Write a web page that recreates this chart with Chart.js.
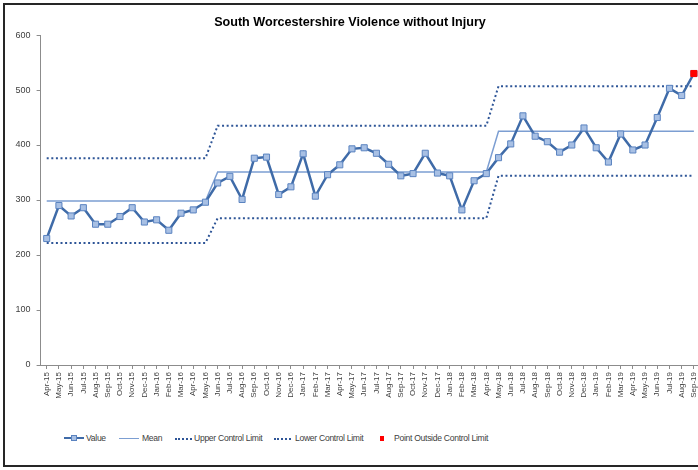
<!DOCTYPE html>
<html lang="en">
<head>
  <meta charset="UTF-8" />
  <title>South Worcestershire Violence without Injury</title>
  <script src="https://cdn.jsdelivr.net/npm/chart.js"></script>
  <style>
    html, body {
      margin: 0;
      padding: 0;
      width: 698px;
      height: 470px;
      overflow: hidden;
      background: #fff;
      font-family: 'Liberation Sans', sans-serif;
    }
    #frame {
      position: absolute;
      left: 3px;
      top: 3px;
      width: 740px;
      height: 460px;
      border: 2px solid #262626;
    }
    #wrap {
      position: absolute;
      left: 0;
      top: 0;
      width: 712px;
      height: 400px;
    }
    .sw, .lab { position: absolute; }
    .lab {
      top: 432px;
      font-size: 8.6px;
      letter-spacing: -0.3px;
      line-height: 13px;
      color: #404040;
      white-space: nowrap;
    }
    .sw-value { top: 437px; width: 20px; border-top: 2.5px solid #3F6BA8; }
    .sw-value i {
      position: absolute; left: 7px; top: -4.5px;
      width: 4px; height: 4px;
      background: #A8C0E4; border: 1px solid #5A83C0;
    }
    .sw-mean { top: 438px; width: 20px; border-top: 1.5px solid #7C9ED2; }
    .sw-dot { top: 437.5px; width: 17px; border-top: 2px dotted #2E5597; }
    .sw-red { top: 436px; width: 4px; height: 5px; background: #ff0000; }
  </style>
</head>
<body>
  <div id="frame"></div>
  <div id="wrap"><canvas id="chart"></canvas></div>

  <span class="sw sw-value" style="left:64px"><i></i></span><span class="lab" style="left:86px">Value</span>
  <span class="sw sw-mean" style="left:119px"></span><span class="lab" style="left:142px">Mean</span>
  <span class="sw sw-dot" style="left:175px"></span><span class="lab" style="left:194px">Upper Control Limit</span>
  <span class="sw sw-dot" style="left:274px"></span><span class="lab" style="left:295px">Lower Control Limit</span>
  <span class="sw sw-red" style="left:380px"></span><span class="lab" style="left:394px">Point Outside Control Limit</span>

  <script>
    const months = [
      'Apr-15','May-15','Jun-15','Jul-15','Aug-15','Sep-15','Oct-15','Nov-15','Dec-15',
      'Jan-16','Feb-16','Mar-16','Apr-16','May-16','Jun-16','Jul-16','Aug-16','Sep-16','Oct-16','Nov-16','Dec-16',
      'Jan-17','Feb-17','Mar-17','Apr-17','May-17','Jun-17','Jul-17','Aug-17','Sep-17','Oct-17','Nov-17','Dec-17',
      'Jan-18','Feb-18','Mar-18','Apr-18','May-18','Jun-18','Jul-18','Aug-18','Sep-18','Oct-18','Nov-18','Dec-18',
      'Jan-19','Feb-19','Mar-19','Apr-19','May-19','Jun-19','Jul-19','Aug-19','Sep-19'
    ];

    const values = [
      230,290,271,286,256,256,270,286,260,264,245,276,282,296,
      331,343,301,376,378,310,324,384,307,346,364,393,395,385,365,344,348,385,349,344,282,335,348,
      377,402,453,416,406,387,400,431,395,369,420,391,400,450,503,490,530
    ];

    const mean = [
      298,298,298,298,298,298,298,298,298,298,298,298,298,298,
      351,351,351,351,351,351,351,351,351,351,351,351,351,351,351,351,351,351,351,351,351,351,351,
      425,425,425,425,425,425,425,425,425,425,425,425,425,425,425,425,425
    ];

    const upperLimit = [
      376,376,376,376,376,376,376,376,376,376,376,376,376,376,
      435,435,435,435,435,435,435,435,435,435,435,435,435,435,435,435,435,435,435,435,435,435,435,
      507,507,507,507,507,507,507,507,507,507,507,507,507,507,507,507,507
    ];

    const lowerLimit = [
      222,222,222,222,222,222,222,222,222,222,222,222,222,222,
      267,267,267,267,267,267,267,267,267,267,267,267,267,267,267,267,267,267,267,267,267,267,267,
      344,344,344,344,344,344,344,344,344,344,344,344,344,344,344,344,344
    ];

    const outside = [
      null,null,null,null,null,null,null,null,null,null,null,null,null,null,
      null,null,null,null,null,null,null,null,null,null,null,null,null,null,null,null,null,null,null,null,null,null,null,
      null,null,null,null,null,null,null,null,null,null,null,null,null,null,null,null,530
    ];

    const yTicks = [0, 100, 200, 300, 400, 500, 600];

    new Chart(document.getElementById('chart'), {
      type: 'line',
      data: {
        labels: months,
        datasets: [
          {
            label: 'Point Outside Control Limit',
            data: outside,
            showLine: false,
            pointStyle: 'rect',
            pointRadius: 4.3,
            pointBackgroundColor: '#ff0000',
            pointBorderColor: '#ff0000',
            order: 0
          },
          {
            label: 'Value',
            data: values,
            borderColor: '#3F6BA8',
            borderWidth: 2.5,
            tension: 0,
            pointStyle: 'rect',
            pointRadius: 4.3,
            pointBorderWidth: 1,
            pointBackgroundColor: '#A8C0E4',
            pointBorderColor: '#5A83C0',
            order: 1
          },
          {
            label: 'Mean',
            data: mean,
            borderColor: '#7C9ED2',
            borderWidth: 1.5,
            pointRadius: 0,
            tension: 0,
            order: 2
          },
          {
            label: 'Upper Control Limit',
            data: upperLimit,
            borderColor: '#2E5597',
            borderWidth: 2,
            borderDash: [2, 2.6],
            pointRadius: 0,
            tension: 0,
            order: 3
          },
          {
            label: 'Lower Control Limit',
            data: lowerLimit,
            borderColor: '#2E5597',
            borderWidth: 2,
            borderDash: [2, 2.6],
            pointRadius: 0,
            tension: 0,
            order: 4
          }
        ]
      },
      options: {
        responsive: true,
        maintainAspectRatio: false,
        animation: false,
        layout: { padding: { top: 0, right: 12, bottom: 0, left: 0 } },
        plugins: {
          legend: { display: false },
          tooltip: { enabled: false },
          title: {
            display: true,
            text: 'South Worcestershire Violence without Injury',
            color: '#000',
            font: { family: "'Liberation Sans', sans-serif", size: 12.6, weight: 'bold' },
            padding: { top: 15, bottom: 4.9 }
          }
        },
        scales: {
          x: {
            offset: true,
            border: { display: true, color: '#8c8c8c' },
            grid: { drawOnChartArea: false, color: '#8c8c8c', tickLength: 4 },
            ticks: {
              autoSkip: false,
              minRotation: 90,
              maxRotation: 90,
              padding: 3,
              color: '#404040',
              font: { family: "'Liberation Sans', sans-serif", size: 8 }
            },
            afterFit: (scale) => { scale.height = 35; }
          },
          y: {
            min: 0,
            max: 600,
            border: { display: true, color: '#8c8c8c' },
            grid: { drawOnChartArea: false, color: '#8c8c8c', tickLength: 4 },
            afterBuildTicks: (scale) => { scale.ticks = yTicks.map(v => ({ value: v })); },
            ticks: {
              padding: 6,
              color: '#404040',
              font: { family: "'Liberation Sans', sans-serif", size: 9 }
            },
            afterFit: (scale) => { scale.width = 40.6; }
          }
        }
      }
    });
  </script>
</body>
</html>
